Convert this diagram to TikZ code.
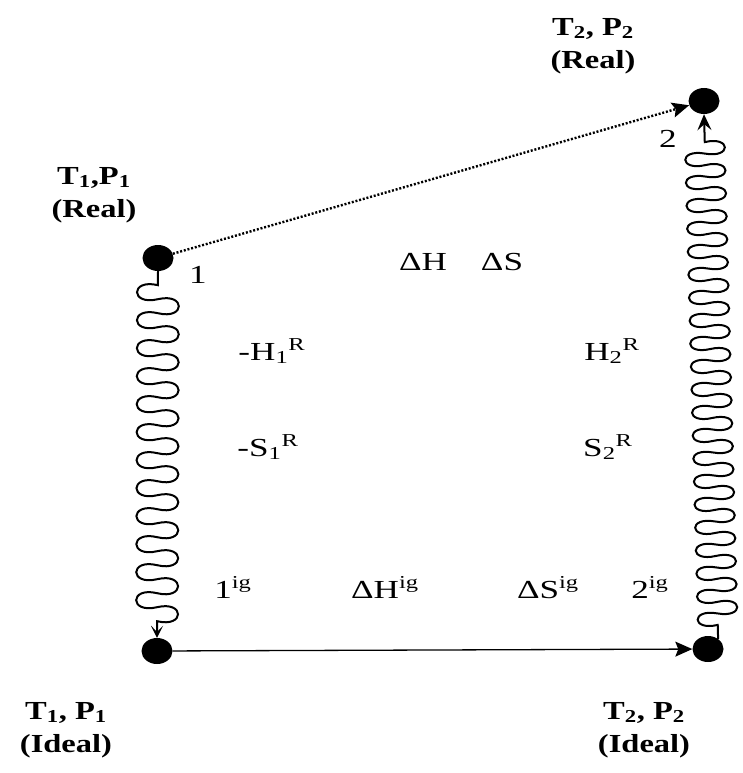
\documentclass[tikz,border=0pt]{standalone}
\usepackage{fontspec}
\setmainfont{Liberation Serif}
\usepackage{graphicx}
\usetikzlibrary{decorations.pathmorphing, arrows.meta, shapes.geometric}

\newcommand{\wreg}[1]{\scalebox{1.35}[1]{#1}}
\newcommand{\wbold}[1]{\scalebox{1.25}[1]{\begin{tabular}{@{}c@{}}#1\end{tabular}}}

% wave with overhanging rounded bulges
\pgfdeclaredecoration{bulgewave}{wave}{
  \state{wave}[switch if less than=\pgfdecorationsegmentlength to final,
               width=\pgfdecorationsegmentlength]{
    \pgfpathcurveto
      {\pgfpoint{-0.24\pgfdecorationsegmentlength}{1.33\pgfdecorationsegmentamplitude}}
      {\pgfpoint{0.74\pgfdecorationsegmentlength}{1.33\pgfdecorationsegmentamplitude}}
      {\pgfpoint{0.5\pgfdecorationsegmentlength}{0pt}}
    \pgfpathcurveto
      {\pgfpoint{0.26\pgfdecorationsegmentlength}{-1.33\pgfdecorationsegmentamplitude}}
      {\pgfpoint{1.24\pgfdecorationsegmentlength}{-1.33\pgfdecorationsegmentamplitude}}
      {\pgfpoint{\pgfdecorationsegmentlength}{0pt}}
  }
  \state{final}{\pgfpathlineto{\pgfpointdecoratedpathlast}}
}

\begin{document}
\begin{tikzpicture}[x=1pt,y=-1pt,
  dot/.style={ellipse, fill=black, minimum width=31pt, minimum height=26pt, inner sep=0pt},
  lbl/.style={font=\fontsize{26}{30}\selectfont, inner sep=0pt, anchor=base},
  statelbl/.style={font=\fontsize{26}{33}\selectfont\bfseries, inner sep=0pt},
  wavyleft/.style={line width=2pt, decorate, decoration={bulgewave, mirror, segment length=28pt, amplitude=21pt, pre length=14pt, post length=14pt}},
  wavyright/.style={line width=2pt, decorate, decoration={bulgewave, segment length=23pt, amplitude=20pt, pre length=14pt, post length=16pt}},
]
\useasboundingbox (0,0) rectangle (743,773);

% state points
\node[dot] (d1) at (158,258) {};
\node[dot] (d2) at (704,101) {};
\node[dot] (d3) at (157,651) {};
\node[dot] (d4) at (708,649) {};

% connectors
\draw[line width=2.4pt, dash pattern=on 2pt off 1.8pt, -{Stealth[length=17pt,width=15pt,inset=3pt]}] (d1) -- (d2);
\draw[line width=1.3pt, -{Stealth[length=17pt,width=15pt,inset=3pt]}] (d3) -- (d4);
\draw[wavyleft, -{Stealth[length=12pt,width=12pt,inset=6pt]}] (d1.south) -- (d3.north);
\draw[wavyright, -{Stealth[length=16pt,width=14pt,inset=6pt]}] (d4.45) -- (d2.south);

% state labels
\node[statelbl] (s1) at (94,194) {\wbold{T\textsubscript{1},P\textsubscript{1}\\(Real)}};
\node[statelbl] (s2) at (593,45) {\wbold{T\textsubscript{2}, P\textsubscript{2}\\(Real)}};
\node[statelbl] (s3) at (66,729) {\wbold{T\textsubscript{1}, P\textsubscript{1}\\(Ideal)}};
\node[statelbl] (s4) at (644,729) {\wbold{T\textsubscript{2}, P\textsubscript{2}\\(Ideal)}};

% point numbers
\node[lbl] (n1) at (198,283) {\wreg{1}};
\node[lbl] (n2) at (668,147) {\wreg{2}};

% property labels
\node[lbl] (dh) at (423,270) {\wreg{ΔH}};
\node[lbl] (ds) at (502,270) {\wreg{ΔS}};
\node[lbl] (h1) at (272,360) {\wreg{-H\textsubscript{1}\textsuperscript{R}}};
\node[lbl] (s1r) at (268,456) {\wreg{-S\textsubscript{1}\textsuperscript{R}}};
\node[lbl] (h2) at (612,360) {\wreg{H\textsubscript{2}\textsuperscript{R}}};
\node[lbl] (s2r) at (608,456) {\wreg{S\textsubscript{2}\textsuperscript{R}}};
\node[lbl] (i1) at (233,598) {\wreg{1\textsuperscript{ig}}};
\node[lbl] (dhig) at (385,598) {\wreg{ΔH\textsuperscript{ig}}};
\node[lbl] (dsig) at (548,598) {\wreg{ΔS\textsuperscript{ig}}};
\node[lbl] (i2) at (650,598) {\wreg{2\textsuperscript{ig}}};
\end{tikzpicture}
\end{document}
